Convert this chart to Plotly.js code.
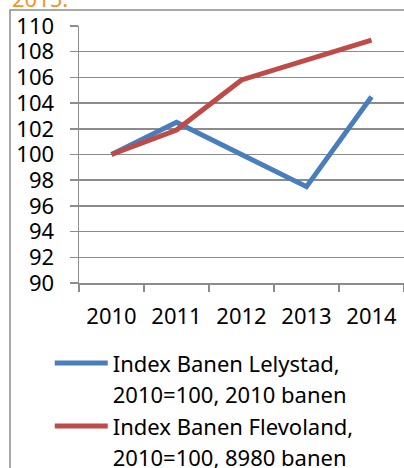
<!DOCTYPE html>
<html>
<head>
<meta charset="utf-8">
<script src="https://cdn.plot.ly/plotly-3.0.1.min.js"></script>
<style>html,body{margin:0;padding:0;background:#fff;}#chart{width:404px;height:468px;}</style>
</head>
<body>
<div id="chart"></div>
<script>
const years = ['2010', '2011', '2012', '2013', '2014'];
const lelystad = [100, 102.5, 100, 97.5, 104.5];
const flevoland = [100, 101.9, 105.8, 107.4, 108.9];
const nameLelystad = ['Index Banen Lelystad,', '2010=100, 2010 banen'];
const nameFlevoland = ['Index Banen Flevoland,', '2010=100, 8980 banen'];
const titleText = '2015.';

const font = 'Noto Sans, Open Sans, sans-serif';
const grid = '#8c8c8c';

// Legend continuation lines are legend-only entries without a visible symbol.
function continuation(name) {
  return {x: [null], y: [null], name: name, type: 'scatter', mode: 'lines',
          line: {color: 'rgba(0,0,0,0)', width: 0}, hoverinfo: 'skip'};
}

const traces = [
  {x: years, y: lelystad, name: nameLelystad[0], type: 'scatter', mode: 'lines',
   line: {color: '#4A7EBB', width: 5}},
  continuation(nameLelystad[1]),
  {x: years, y: flevoland, name: nameFlevoland[0], type: 'scatter', mode: 'lines',
   line: {color: '#BE4B48', width: 5}},
  continuation(nameFlevoland[1])
];

const layout = {
  width: 404, height: 468,
  margin: {l: 79, r: 0, t: 26, b: 185, autoexpand: false},
  paper_bgcolor: '#fff', plot_bgcolor: '#fff',
  font: {family: font, color: '#000', size: 22},
  showlegend: true,
  legend: {x: -0.09, xanchor: 'left', y: -0.23, yanchor: 'top',
           font: {family: font, size: 22, color: '#000'},
           bgcolor: 'rgba(0,0,0,0)', tracegroupgap: 0, itemwidth: 53,
           traceorder: 'normal'},
  xaxis: {type: 'category', range: [-0.5, 4.5], showgrid: false, showline: true,
          linecolor: grid, linewidth: 1.5, ticks: 'outside', tickson: 'boundaries',
          ticklen: 7, tickcolor: grid, tickwidth: 1.5, ticklabelstandoff: 13,
          tickfont: {family: font, size: 22, color: '#000'}, fixedrange: true},
  yaxis: {range: [90, 110], dtick: 2, tick0: 90, showgrid: true, gridcolor: grid,
          gridwidth: 1.5, showline: true, linecolor: grid, linewidth: 1.5,
          ticks: 'outside', ticklen: 8, tickcolor: grid, tickwidth: 1.5,
          ticklabelstandoff: 11, zeroline: false,
          tickfont: {family: font, size: 22, color: '#000'}, fixedrange: true},
  shapes: [{type: 'rect', xref: 'paper', yref: 'paper',
            x0: (10 - 79) / 325, x1: 1.2, y0: -1, y1: 1 + 16 / 257,
            line: {color: grid, width: 1.5}, fillcolor: 'rgba(0,0,0,0)', layer: 'below'}],
  annotations: [{text: titleText, xref: 'paper', yref: 'paper',
                 x: (10 - 79) / 325, xanchor: 'left', y: 1 + 11 / 257, yanchor: 'bottom',
                 showarrow: false, font: {family: font, size: 22, color: '#F7941D'}}]
};

Plotly.newPlot('chart', traces, layout, {displayModeBar: false, staticPlot: true});
</script>
</body>
</html>
